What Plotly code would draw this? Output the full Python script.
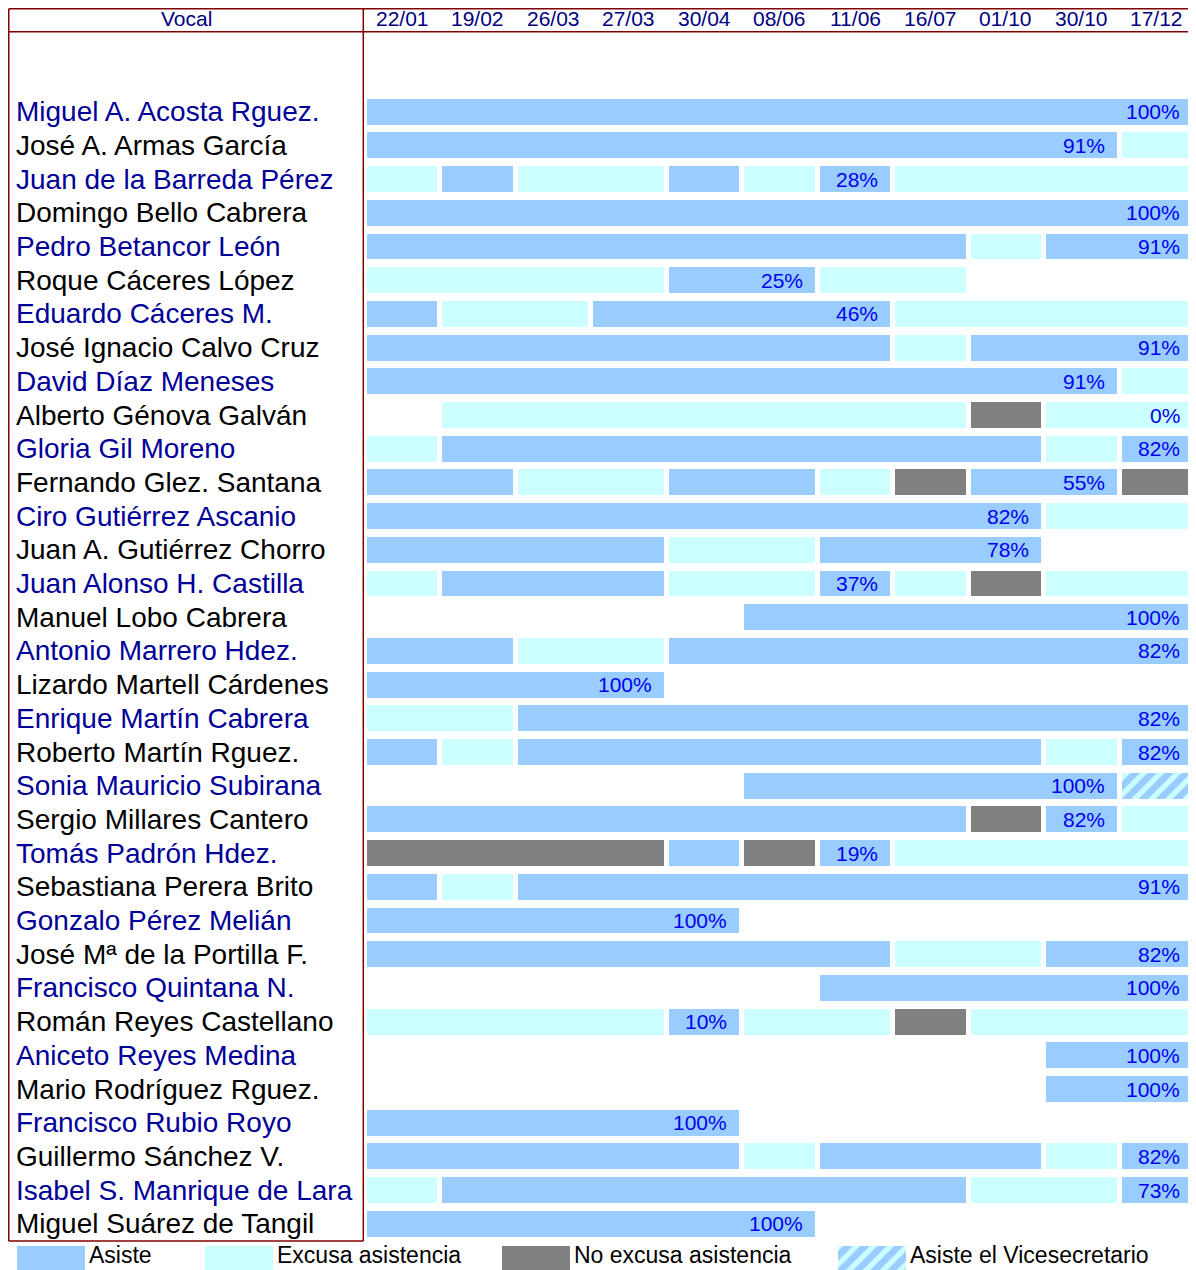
import plotly.graph_objects as go

# ---------------- data ----------------
fechas = ["22/01", "19/02", "26/03", "27/03", "30/04", "08/06",
          "11/06", "16/07", "01/10", "30/10", "17/12"]

vocales = [
    "Miguel A. Acosta Rguez.", "José A. Armas García", "Juan de la Barreda Pérez",
    "Domingo Bello Cabrera", "Pedro Betancor León", "Roque Cáceres López",
    "Eduardo Cáceres M.", "José Ignacio Calvo Cruz", "David Díaz Meneses",
    "Alberto Génova Galván", "Gloria Gil Moreno", "Fernando Glez. Santana",
    "Ciro Gutiérrez Ascanio", "Juan A. Gutiérrez Chorro", "Juan Alonso H. Castilla",
    "Manuel Lobo Cabrera", "Antonio Marrero Hdez.", "Lizardo Martell Cárdenes",
    "Enrique Martín Cabrera", "Roberto Martín Rguez.", "Sonia Mauricio Subirana",
    "Sergio Millares Cantero", "Tomás Padrón Hdez.", "Sebastiana Perera Brito",
    "Gonzalo Pérez Melián", "José Mª de la Portilla F.", "Francisco Quintana N.",
    "Román Reyes Castellano", "Aniceto Reyes Medina", "Mario Rodríguez Rguez.",
    "Francisco Rubio Royo", "Guillermo Sánchez V.", "Isabel S. Manrique de Lara",
    "Miguel Suárez de Tangil",
]

# A = asiste, E = excusa asistencia, N = no excusa asistencia,
# V = asiste el Vicesecretario, . = no era vocal
asistencia = [
    "AAAAAAAAAAA", "AAAAAAAAAAE", "EAEEAEAEEEE", "AAAAAAAAAAA", "AAAAAAAAEAA",
    "EEEEAAEE...", "AEEAAAAEEEE", "AAAAAAAEAAA", "AAAAAAAAAAE", ".EEEEEEENEE",
    "EAAAAAAAAEA", "AAEEAAENAAN", "AAAAAAAAAEE", "AAAAEEAAA..", "EAAAEEAENEE",
    ".....AAAAAA", "AAEEAAAAAAA", "AAAA.......", "EEAAAAAAAAA", "AEAAAAAAAEA",
    ".....AAAAAV", "AAAAAAAANAE", "NNNNANAEEEE", "AEAAAAAAAAA", "AAAAA......",
    "AAAAAAAEEAA", "......AAAAA", "EEEEAEENEEE", ".........AA", ".........AA",
    "AAAAA......", "AAAAAEAAAEA", "EAAAAAAAEEA", "AAAAAA.....",
]

porcentajes = [
    "100%", "91%", "28%", "100%", "91%", "25%", "46%", "91%", "91%", "0%",
    "82%", "55%", "82%", "78%", "37%", "100%", "82%", "100%", "82%", "82%",
    "100%", "82%", "19%", "91%", "100%", "82%", "100%", "10%", "100%", "100%",
    "100%", "82%", "73%", "100%",
]

leyenda_codigos = ["A", "E", "N", "V"]
leyenda_textos = ["Asiste", "Excusa asistencia", "No excusa asistencia",
                  "Asiste el Vicesecretario"]

# ---------------- styles / layout constants ----------------
FONT = "Liberation Sans, Arial, sans-serif"
COLORS = {"A": "#99ccff", "E": "#ccffff", "N": "#808080", "V": "#99ccff"}
BORDER = "#800000"
PAD = 0.033          # half gap between runs (column units)
BAR_W = 0.77         # bar thickness (row units)

W, H = 1188, 1262    # page body has an 8 px margin
X_RANGE = [-4.724, 11.018]
Y_RANGE = [33.57, -3.077]
LEFT_X = -4.714
DIV_X = -0.016
RIGHT_X = 11.004
TOP_Y = -3.055
HEAD_Y = -2.374
BOT_Y = 33.51
HEAD_TXT_Y = -2.76
NAME_X = -4.644

LEG_BOX_X = [17, 205, 502, 838]
LEG_BOX_W = 68

# ---------------- build runs ----------------
runs = {c: {"y": [], "base": [], "x": []} for c in COLORS}
labels = []
for i, fila in enumerate(asistencia):
    segs = []
    k = 0
    n = len(fila)
    while k < n:
        c = fila[k]
        j = k
        while j + 1 < n and fila[j + 1] == c:
            j += 1
        if c != ".":
            segs.append((c, k, j + 1))
        k = j + 1
    for c, s, e in segs:
        runs[c]["y"].append(i)
        runs[c]["base"].append(s + PAD)
        runs[c]["x"].append(e - s - 2 * PAD)
    a_segs = [sg for sg in segs if sg[0] == "A"]
    lab_seg = a_segs[-1] if a_segs else segs[-1]
    labels.append((i, lab_seg[2] - PAD))

fig = go.Figure()

HATCH = dict(shape="/", bgcolor="#99ccff", fgcolor="#ccffff",
             size=12, solidity=0.45, fillmode="replace")

for c in ["A", "E", "N", "V"]:
    marker = dict(color=COLORS[c], line=dict(width=0))
    if c == "V":
        marker["pattern"] = HATCH
    fig.add_trace(go.Bar(
        orientation="h", y=runs[c]["y"], x=runs[c]["x"], base=runs[c]["base"],
        width=BAR_W, marker=marker, hoverinfo="skip", showlegend=False,
        xaxis="x", yaxis="y",
    ))

# legend swatches (in a small auxiliary axis at the bottom)
for c, bx in zip(leyenda_codigos, LEG_BOX_X):
    marker = dict(color=COLORS[c], line=dict(width=0))
    if c == "V":
        marker["pattern"] = HATCH
    fig.add_trace(go.Bar(
        orientation="h", y=[0], x=[LEG_BOX_W], base=[bx], width=1,
        marker=marker, hoverinfo="skip", showlegend=False,
        xaxis="x2", yaxis="y2",
    ))

annotations = []
# header
annotations.append(dict(x=(LEFT_X + DIV_X) / 2, y=HEAD_TXT_Y, xref="x", yref="y",
                        text="Vocal", showarrow=False,
                        font=dict(family=FONT, size=21, color="#000080")))
for k, f in enumerate(fechas):
    annotations.append(dict(x=k + 0.5, y=HEAD_TXT_Y, xref="x", yref="y", text=f,
                            showarrow=False,
                            font=dict(family=FONT, size=21, color="#000080")))
# names
for i, nm in enumerate(vocales):
    annotations.append(dict(x=NAME_X, y=i, xref="x", yref="y", text=nm,
                            showarrow=False, xanchor="left", yanchor="middle",
                            font=dict(family=FONT, size=28,
                                      color="#000099" if i % 2 == 0 else "#000000")))
# percentages
for (i, xe), p in zip(labels, porcentajes):
    annotations.append(dict(x=xe, y=i, xref="x", yref="y", text=p,
                            showarrow=False, xanchor="right", yanchor="middle",
                            xshift=-10,
                            font=dict(family=FONT, size=21, color="#0000ee")))
# legend texts
for bx, t in zip(LEG_BOX_X, leyenda_textos):
    annotations.append(dict(x=bx + LEG_BOX_W + 2, y=0, xref="x2", yref="y2", text=t,
                            showarrow=False, xanchor="left", yanchor="middle",
                            yshift=3,
                            font=dict(family=FONT, size=23, color="#000000")))

line = dict(color=BORDER, width=1.5)
shapes = [
    dict(type="line", xref="x", yref="y", x0=LEFT_X, x1=RIGHT_X, y0=TOP_Y, y1=TOP_Y, line=line),
    dict(type="line", xref="x", yref="y", x0=LEFT_X, x1=RIGHT_X, y0=HEAD_Y, y1=HEAD_Y, line=line),
    dict(type="line", xref="x", yref="y", x0=LEFT_X, x1=LEFT_X, y0=TOP_Y, y1=BOT_Y, line=line),
    dict(type="line", xref="x", yref="y", x0=DIV_X, x1=DIV_X, y0=TOP_Y, y1=BOT_Y, line=line),
    dict(type="line", xref="x", yref="y", x0=LEFT_X, x1=DIV_X, y0=BOT_Y, y1=BOT_Y, line=line),
]

fig.update_layout(
    width=W, height=H,
    margin=dict(l=0, r=0, t=0, b=0),
    paper_bgcolor="white", plot_bgcolor="white",
    barmode="overlay", bargap=0,
    xaxis=dict(range=X_RANGE, visible=False, domain=[0, 1], anchor="y"),
    yaxis=dict(range=Y_RANGE, visible=False, domain=[0.02139, 1], anchor="x"),
    xaxis2=dict(range=[8, 1196], visible=False, domain=[0, 1], anchor="y2"),
    yaxis2=dict(range=[-0.5, 0.5], visible=False, domain=[0, 0.01902], anchor="x2"),
    annotations=annotations, shapes=shapes,
    showlegend=False,
)

fig.write_html("out.html")
